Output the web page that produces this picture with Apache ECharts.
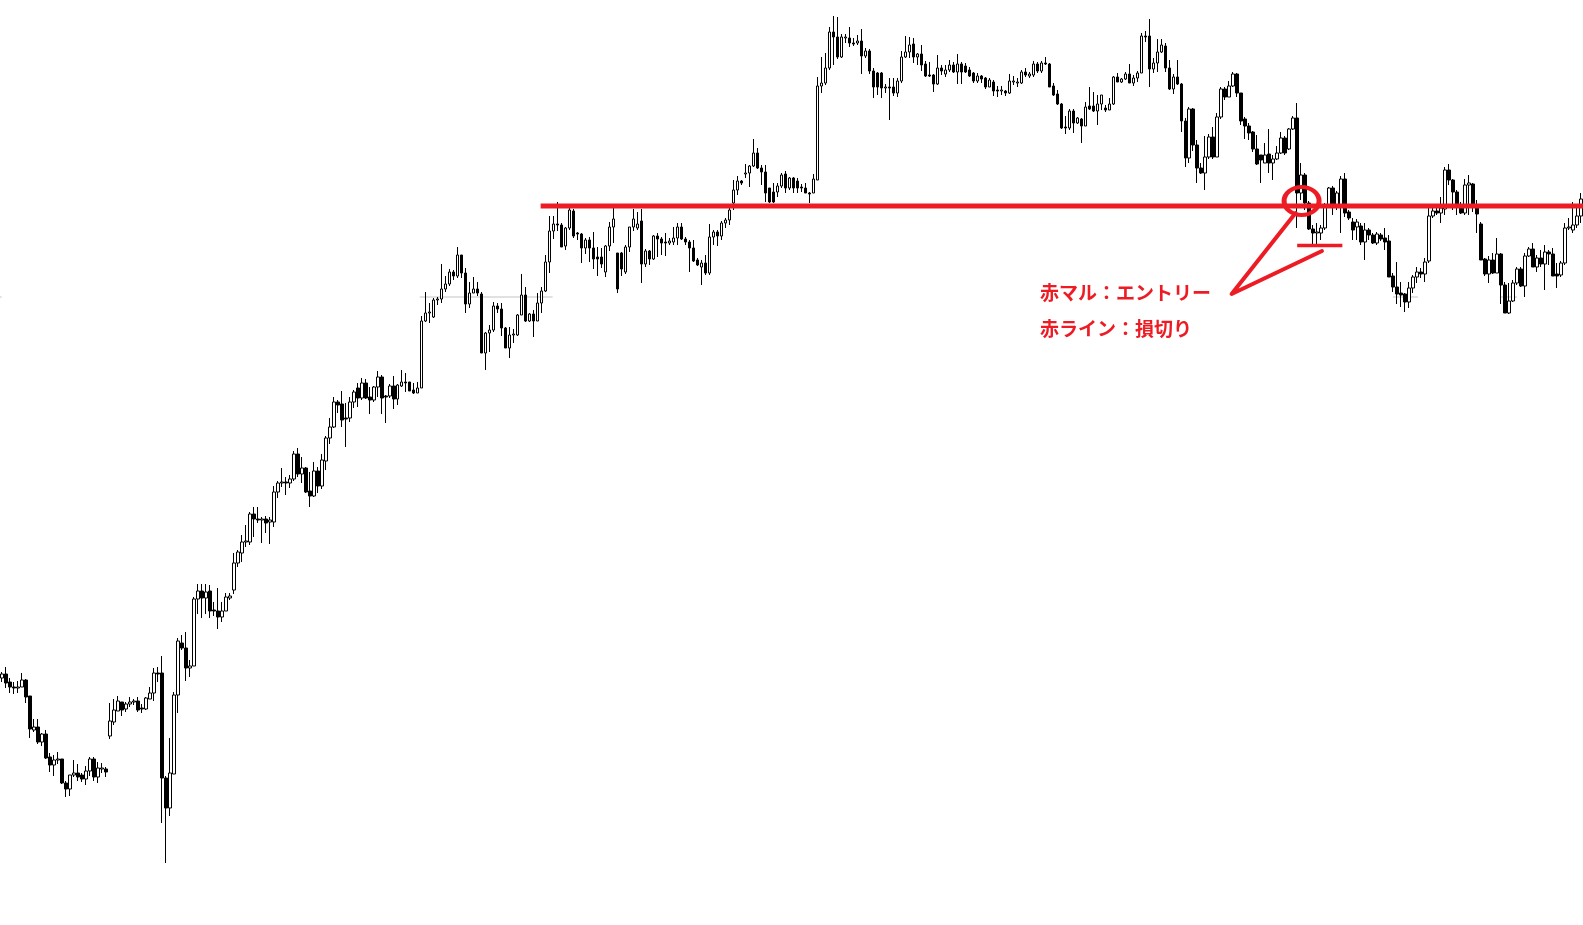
<!DOCTYPE html>
<html>
<head>
<meta charset="utf-8">
<script src="https://cdn.jsdelivr.net/npm/echarts@6/dist/echarts.min.js"></script>
<style>
html,body{margin:0;padding:0;background:#fff;}
#chart{width:1583px;height:925px;}
</style>
</head>
<body>
<div id="chart"></div>
<script>
// Price values (arbitrary price units), one per candle
const opens = [
247,251,243,238,237,238,245,229,195,198,
183,191,168,160,165,166,142,136,150,152,
150,146,154,166,148,156,156,189,203,214,
223,216,221,223,224,217,216,226,232,252,
252,147,117,151,230,282,277,257,259,326,
334,327,334,315,314,308,314,327,335,362,
372,383,383,411,406,405,406,403,403,433,
442,443,442,446,471,451,457,434,429,454,
439,464,487,498,523,521,507,507,523,537,
527,542,528,525,538,548,529,529,539,526,
539,543,543,535,532,537,604,612,608,625,
626,636,641,653,649,670,652,621,632,636,
631,572,592,595,619,616,597,577,590,590,
610,630,604,611,604,622,634,663,694,701,
700,679,697,714,692,691,677,685,677,668,
668,653,679,698,672,672,653,678,698,697,
704,661,674,666,689,686,683,682,683,687,
698,686,683,677,665,658,662,652,688,693,
689,702,705,722,735,744,751,752,759,772,
757,753,737,733,733,739,751,737,747,744,
738,737,732,732,745,839,842,857,893,888,
868,887,887,882,882,884,869,874,854,852,
852,837,838,838,832,844,868,873,881,868,
871,861,850,850,841,857,851,855,860,853,
861,859,855,852,844,849,847,838,843,835,
834,834,832,843,842,842,853,849,850,861,
854,862,861,839,831,821,798,797,814,802,
806,799,819,819,814,821,817,815,821,848,
843,846,851,842,847,852,889,889,856,862,
873,879,857,836,848,841,804,767,816,780,
757,752,768,788,768,808,836,828,839,851,
832,806,799,793,776,770,762,771,762,766,
772,787,776,796,807,732,750,722,696,692,
692,697,718,737,718,718,746,713,703,698,
699,683,695,690,682,690,687,684,649,638,
632,631,623,637,648,653,651,664,709,714,
712,716,755,745,733,720,712,740,741,717,
701,666,651,665,652,671,640,612,624,642,
656,639,669,676,658,667,661,673,671,651,
650,662,697,695,700,709
];
const closes = [
251,242,238,237,238,245,228,196,198,183,
191,167,160,165,166,142,136,150,152,148,
146,154,166,148,157,157,153,204,215,224,
215,221,223,224,215,216,227,232,252,251,
147,117,152,230,284,277,257,259,326,334,
327,333,314,314,308,314,328,329,362,373,
383,384,411,406,405,406,402,405,433,442,
443,442,446,471,451,457,433,429,454,439,
465,487,498,523,520,505,506,523,533,527,
542,527,525,538,548,527,528,539,526,540,
543,542,534,532,537,604,612,613,625,626,
636,641,653,649,670,652,621,632,636,632,
572,592,595,619,616,597,577,590,591,610,
630,604,611,604,622,634,663,694,701,700,
678,697,715,689,691,677,685,677,666,666,
661,679,698,706,636,656,678,698,706,701,
661,674,666,689,686,682,682,684,687,698,
686,683,677,664,660,662,652,688,693,689,
702,705,715,735,744,742,752,759,772,757,
753,732,723,723,739,750,737,747,737,737,
737,732,731,746,839,842,857,893,888,868,
888,888,882,881,884,869,874,854,838,838,
837,838,837,832,844,868,873,880,868,871,
860,849,849,841,857,854,855,860,853,861,
853,853,849,844,849,846,838,845,834,834,
835,832,844,844,843,853,850,851,861,854,
862,861,838,830,821,797,797,814,802,807,
799,818,816,814,821,830,815,821,848,843,
846,851,842,847,852,889,888,856,862,873,
880,857,836,848,841,804,767,816,780,757,
752,768,788,768,808,836,828,839,851,832,
804,799,792,776,761,765,770,762,766,772,
787,772,796,807,732,750,722,696,692,693,
697,718,737,718,732,746,712,707,695,703,
683,695,690,682,691,686,683,648,638,631,
630,623,637,648,653,651,663,709,714,712,
717,755,745,733,720,712,740,742,719,711,
665,651,665,652,671,640,612,624,642,656,
639,669,676,658,667,661,673,671,649,649,
662,697,698,700,709,726
];
const lows = [
243,237,232,231,232,238,222,187,193,181,
179,166,153,149,161,141,128,129,148,144,
143,140,149,144,142,152,148,186,200,214,
209,213,218,220,213,212,215,226,224,243,
102,62,109,151,212,275,244,248,259,311,
307,311,307,309,296,303,314,325,331,358,
363,378,380,388,402,382,392,381,398,427,
438,430,437,444,448,442,432,418,428,432,
436,455,481,497,512,498,478,503,517,518,
525,526,511,523,528,511,502,527,516,520,
538,533,534,531,532,537,603,602,607,620,
622,633,639,645,647,647,612,617,632,629,
572,555,573,593,612,589,577,567,582,589,
610,603,603,588,604,612,633,652,686,694,
678,675,695,687,685,662,671,663,656,649,
657,648,674,682,632,649,651,673,694,695,
642,658,660,665,668,670,669,680,680,680,
685,680,653,663,659,640,650,650,680,679,
685,697,700,715,730,740,747,738,758,756,
740,723,722,722,728,737,732,735,732,732,
733,732,722,732,745,832,840,855,860,866,
867,882,878,879,880,851,867,851,827,830,
827,832,805,829,828,842,867,867,862,860,
854,848,848,833,840,850,848,853,852,841,
841,852,848,842,842,842,836,838,829,828,
830,829,831,840,838,841,848,847,848,852,
852,860,838,829,820,796,791,795,792,801,
782,799,815,813,800,815,813,815,820,843,
842,845,842,839,843,852,883,838,852,853,
872,853,835,831,840,793,758,762,774,742,
751,735,766,766,768,806,825,828,838,828,
800,786,785,773,760,742,762,752,745,765,
771,770,775,795,697,725,715,695,678,678,
685,695,717,710,715,692,708,705,685,685,
680,665,685,681,680,684,675,648,633,621,
618,613,617,632,642,647,643,662,707,710,
702,710,740,715,710,711,710,710,713,692,
665,649,642,651,652,621,612,611,623,640,
638,628,668,658,653,658,635,660,649,637,
648,660,695,692,697,702
];
const highs = [
253,258,247,243,244,252,246,229,206,206,
192,195,172,170,173,166,144,150,165,161,
152,159,168,168,163,162,158,222,226,229,
223,223,228,226,228,221,228,238,257,258,
269,149,187,233,287,290,293,265,328,341,
341,341,340,323,337,323,332,332,372,375,
390,400,413,418,418,408,409,408,439,444,
457,448,450,474,477,468,458,453,463,458,
471,489,507,528,525,534,522,528,535,542,
547,546,538,539,554,550,530,541,549,541,
555,552,543,542,543,609,633,622,627,628,
661,649,656,655,678,670,657,643,648,643,
633,593,600,623,622,622,598,598,596,611,
651,638,612,615,632,638,670,709,709,723,
702,698,717,716,693,692,687,688,693,678,
677,680,703,717,672,673,680,698,716,713,
716,676,675,690,692,688,692,687,698,702,
702,688,685,685,667,665,670,701,695,695,
704,707,718,745,749,745,761,760,786,777,
760,760,737,742,742,752,754,748,748,747,
741,742,733,751,848,868,872,898,909,908,
891,891,898,887,890,896,877,876,857,853,
853,841,847,847,847,874,889,888,887,872,
880,864,863,851,870,860,860,865,863,871,
863,862,858,853,852,850,848,847,845,839,
839,835,851,849,847,855,857,853,864,863,
864,868,862,842,835,822,809,816,816,808,
807,823,838,833,830,830,820,827,849,852,
847,853,861,850,854,892,894,906,867,886,
886,882,865,851,865,842,807,818,817,785,
762,789,791,798,812,838,838,844,853,852,
832,808,802,794,790,770,782,796,770,779,
793,789,797,809,822,762,752,724,700,702,
700,722,738,739,734,749,752,715,707,706,
702,702,697,692,693,692,697,690,652,663,
643,632,643,650,658,657,667,717,719,718,
728,758,761,746,735,723,746,750,742,725,
703,667,669,672,687,672,643,642,645,658,
658,672,678,682,670,675,680,675,677,662,
664,702,707,723,720,732
];
// Candle slots (bar index)
const categories = opens.map((_, i) => String(i));

// Annotation levels
const entryLevel = 719;       // red horizontal line
const stopLevel = 679.5;      // red short stop-loss line
const greyLevel = 628;        // faint grey reference line
const entryCandle = 325;      // candle circled in red
const entryCircleLevel = 724;
const labelTexts = ['赤マル：エントリー', '赤ライン：損切り'];

const RED = '#ed1c24';
const N = opens.length;
const candleData = opens.map((o, i) => [o, closes[i], lows[i], highs[i]]);

const chart = echarts.init(document.getElementById('chart'), null, {renderer: 'canvas'});

function seg(x1, x2, y1, y2, color, width, z) {
  return {
    type: 'line', xAxisIndex: 1, yAxisIndex: 0, z: z,
    data: [[x1, y1], [x2, y2]], symbol: 'none', silent: true,
    lineStyle: {color: color, width: width, cap: 'butt'}, animation: false
  };
}

const series = [
  seg(-0.5, -0.1, greyLevel, greyLevel, '#c3c3c3', 1, 1),
  seg(104.5, 137.75, greyLevel, greyLevel, '#c3c3c3', 1, 1),
  seg(348, 354.2, greyLevel, greyLevel, '#c3c3c3', 1, 1),
  seg(374.7, 379, greyLevel, greyLevel, '#c3c3c3', 1, 1),
  {
    type: 'candlestick', xAxisIndex: 0, yAxisIndex: 0, z: 2,
    data: candleData, barWidth: 3,
    itemStyle: {color: '#ffffff', color0: '#000000', borderColor: '#000000', borderColor0: '#000000', borderWidth: 1},
    animation: false
  },
  seg(134.75, 395.6, entryLevel, entryLevel, RED, 5, 5),
  seg(324, 335.3, stopLevel, stopLevel, RED, 3.5, 5),
  {
    type: 'line', xAxisIndex: 1, yAxisIndex: 0, z: 5,
    data: [[323.6, 712], [307.6, 631], [330.2, 674]], symbol: 'none', silent: true,
    lineStyle: {color: RED, width: 4, join: 'round', cap: 'round'}, animation: false
  },
  {
    type: 'scatter', xAxisIndex: 1, yAxisIndex: 0, z: 6,
    data: [[entryCandle + 0.1, entryCircleLevel]], symbol: 'circle', symbolSize: [35, 28],
    itemStyle: {color: 'rgba(0,0,0,0)', borderColor: RED, borderWidth: 4.5, opacity: 1},
    silent: true, animation: false
  }
];

chart.setOption({
  animation: false,
  backgroundColor: '#ffffff',
  grid: {left: 0, right: 0, top: 0, bottom: 0, containLabel: false},
  xAxis: [
    {type: 'category', data: categories, show: false, boundaryGap: true},
    {type: 'value', min: -0.5, max: N - 0.5, show: false}
  ],
  yAxis: [{type: 'value', min: 0, max: 925, show: false, splitLine: {show: false}}],
  series: series,
  graphic: [
    {type: 'text', x: 1040, y: 293, z: 10, style: {text: labelTexts[0], fill: RED, fontSize: 19, fontWeight: 'bold', fontFamily: '"Noto Sans CJK JP"', verticalAlign: 'middle'}},
    {type: 'text', x: 1040, y: 329, z: 10, style: {text: labelTexts[1], fill: RED, fontSize: 19, fontWeight: 'bold', fontFamily: '"Noto Sans CJK JP"', verticalAlign: 'middle'}}
  ]
});
</script>
</body>
</html>
